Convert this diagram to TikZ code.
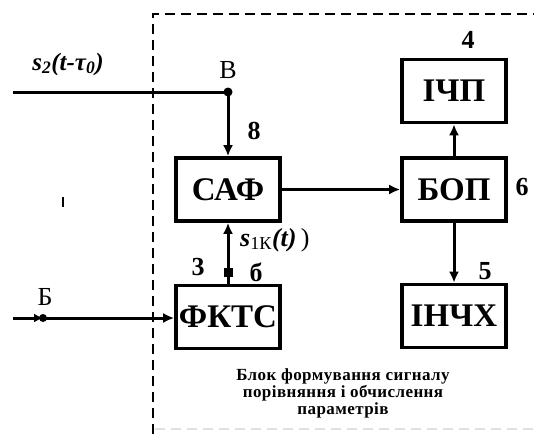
\documentclass[tikz,border=0pt]{standalone}
\usepackage{fontspec}
\setmainfont{Liberation Serif}
\usetikzlibrary{arrows.meta}
\begin{document}
\begin{tikzpicture}[x=1pt,y=-1pt,
  blk/.style={draw,line width=3.6pt,rectangle,inner sep=0pt,minimum width=104pt,minimum height=63pt,font=\fontsize{33}{35}\selectfont\bfseries},
  conn/.style={line width=3pt},
  arr/.style={conn,-{Latex[length=11pt,width=10pt]}},
  num/.style={font=\fontsize{26}{28}\selectfont\bfseries,inner sep=0pt},
  lab/.style={font=\fontsize{26}{28}\selectfont,inner sep=0pt},
  frame/.style={line width=2.6pt,dash pattern=on 10pt off 6pt}]
\useasboundingbox (0,0) rectangle (534,434);
\fill[white] (0,0) rectangle (534,434);
% dashed frame
\coordinate (fl1) at (153,434);
\coordinate (fl2) at (153,14);
\coordinate (fl3) at (534,14);
\draw[frame] (fl1) -- (fl2) -- (fl3);
\coordinate (fb1) at (155,429);
\coordinate (fb2) at (534,429);
\draw[frame,black!12] (fb1) -- (fb2);
% blocks
\node[blk] (saf) at (228,189.5) {САФ};
\node[blk] (fkts) at (228,317) {ФКТС};
\node[blk] (ichp) at (454,91) {ІЧП};
\node[blk] (bop) at (454,189.5) {БОП};
\node[blk] (inch) at (454,316) {ІНЧХ};
% input s2
\coordinate (sin) at (13,92);
\coordinate (B) at (228,92);
\draw[conn] (sin) -- (B);
\fill (B) circle (4.5pt);
\draw[arr] (B) -- (saf.north);
\node[lab] (Blab) at (228,70) {В};
\node[num] (n8) at (254,131) {8};
\node[font=\fontsize{25}{27}\selectfont\bfseries\itshape,inner sep=0pt] (s2) at (68,64) {s\textsubscript{2}(t-τ\textsubscript{0})};
% input Б
\coordinate (bin) at (13,318);
\coordinate (bdot) at (43,318);
\draw[conn,-{Latex[length=9pt,width=9pt]}] (bin) -- (bdot);
\fill (bdot) circle (4pt);
\draw[arr] (bdot) -- (fkts.west |- bdot);
\node[lab] (Blab2) at (45,297) {Б};
% fkts -> saf
\draw[arr] (fkts.north) -- (saf.south);
\coordinate (sq) at (228,272);
\fill (sq) ++(-4.5,-4.5) rectangle ++(9,9);
\node[num] (n3) at (198,267) {3};
\node[num] (nb) at (256,272) {б};
\node[font=\fontsize{26}{28}\selectfont\bfseries\itshape,inner sep=0pt,anchor=west] (s1) at (240,240) {s\textsubscript{\upshape\mdseries 1К}(t)\,\mdseries\upshape)};
% saf -> bop
\draw[arr] (saf.east) -- (bop.west);
\node[num] (n6) at (522,187) {6};
% bop -> ichp, bop -> inch
\draw[arr] (bop.north) -- (ichp.south);
\draw[arr] (bop.south) -- (inch.north);
\node[num] (n4) at (468,40) {4};
\node[num] (n5) at (485,271) {5};
% stray tick
\coordinate (t1) at (63,197);
\coordinate (t2) at (63,207);
\draw[line width=1.6pt] (t1) -- (t2);
% caption
\node[align=center,font=\fontsize{17}{17}\selectfont\bfseries\addfontfeatures{LetterSpace=2.5},inner sep=0pt] (cap) at (343,393) {Блок формування сигналу\\порівняння і обчислення\\параметрів};
\end{tikzpicture}
\end{document}
